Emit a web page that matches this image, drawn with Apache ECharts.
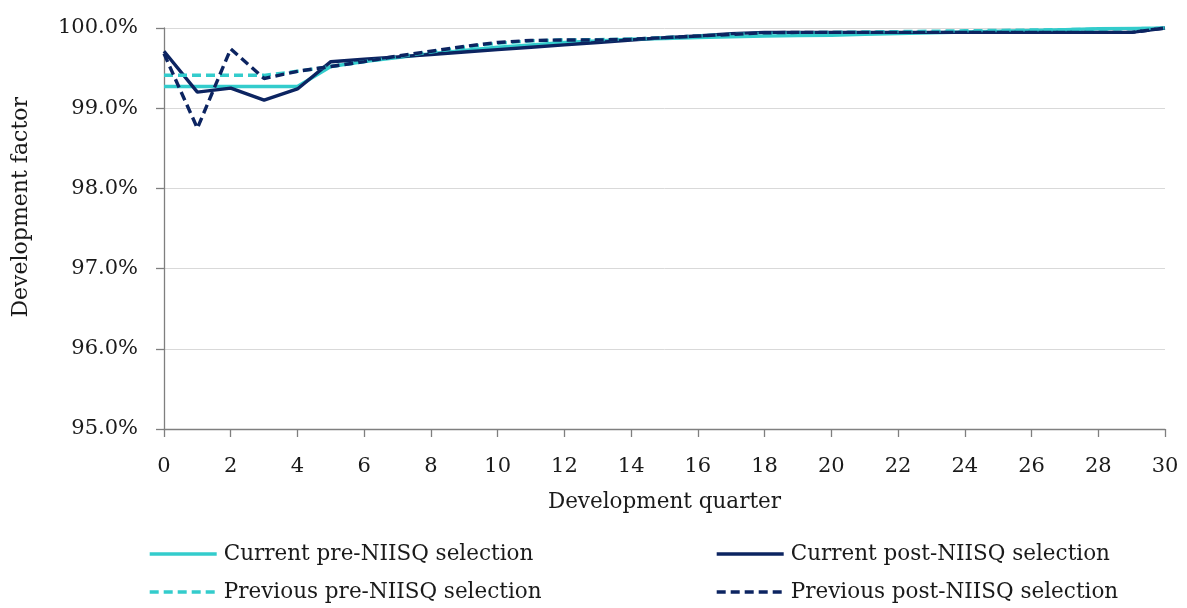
<!DOCTYPE html>
<html><head><meta charset="utf-8">
<script src="https://cdn.jsdelivr.net/npm/echarts@6/dist/echarts.min.js"></script>
<style>html,body{margin:0;padding:0;background:#fff}#c{width:1187px;height:608px}</style>
</head><body><div id="c"></div>
<script>
const quarters = [0,1,2,3,4,5,6,7,8,9,10,11,12,13,14,15,16,17,18,19,20,21,22,23,24,25,26,27,28,29,30];
const currentPre  = [99.27,99.27,99.27,99.27,99.27,99.52,99.58,99.63,99.68,99.72,99.76,99.79,99.82,99.84,99.86,99.87,99.88,99.89,99.90,99.905,99.91,99.92,99.93,99.94,99.95,99.96,99.97,99.98,99.99,99.995,100.0];
const currentPost = [99.71,99.20,99.25,99.10,99.24,99.58,99.61,99.64,99.67,99.70,99.73,99.76,99.79,99.82,99.85,99.88,99.90,99.93,99.945,99.945,99.945,99.945,99.945,99.945,99.945,99.945,99.945,99.945,99.945,99.945,100.0];
const previousPre = [99.41,99.41,99.41,99.41,99.46,99.52,99.58,99.64,99.70,99.76,99.81,99.84,99.85,99.855,99.86,99.88,99.90,99.92,99.935,99.94,99.945,99.95,99.955,99.96,99.965,99.97,99.975,99.98,99.985,99.99,100.0];
const previousPost= [99.68,98.75,99.74,99.37,99.46,99.52,99.58,99.65,99.71,99.77,99.82,99.845,99.85,99.85,99.86,99.88,99.90,99.92,99.94,99.945,99.945,99.945,99.945,99.945,99.945,99.945,99.945,99.945,99.945,99.945,100.0];
const yTicks = [95,96,97,98,99,100];
const names = ['Current pre-NIISQ selection','Current post-NIISQ selection','Previous pre-NIISQ selection','Previous post-NIISQ selection'];

const TEAL = '#33CCCC', NAVY = '#0C2461';
const FONT = 'DejaVu Serif';
const TXT = '#1a1a1a';
const pair = arr => quarters.map((q,i)=>[q, arr[i]]);
const chart = echarts.init(document.getElementById('c'), null, {renderer:'canvas'});
const axisGray = '#7f7f7f';
const DASH = [9,5];
const mk = (name, data, color, dashed) => ({
  name, type:'line', data: pair(data), symbol:'none', showSymbol:false, smooth:false,
  lineStyle:{color, width:3.4, type: dashed ? DASH : 'solid'},
  itemStyle:{color}, animation:false
});
const lg = (name, left, top, dashed) => ({
  data:[name], orient:'horizontal', left, top, padding:0,
  itemWidth:67, itemHeight:14, itemGap:10,
  itemStyle:{opacity:0},
  lineStyle:{width:3.4, type: dashed ? DASH : 'solid'},
  textStyle:{fontFamily:FONT, fontSize:21.5, color:TXT, padding:[0,0,0,2]}
});
chart.setOption({
  backgroundColor:'#fff',
  animation:false,
  textStyle:{fontFamily:FONT},
  grid:{left:164, right:22, top:28, bottom:179, containLabel:false},
  xAxis:{
    type:'value', min:0, max:30, interval:2,
    name:'Development quarter', nameLocation:'middle', nameGap:62,
    nameTextStyle:{fontFamily:FONT, fontSize:21.5, color:TXT},
    axisLine:{lineStyle:{color:axisGray, width:1.3}},
    axisTick:{show:true, inside:false, length:8, lineStyle:{color:axisGray, width:1.3}},
    axisLabel:{fontFamily:FONT, fontSize:21, color:TXT, margin:27},
    splitLine:{show:false}
  },
  yAxis:{
    type:'value', min:yTicks[0], max:yTicks[yTicks.length-1], interval:1,
    axisLine:{show:true, lineStyle:{color:axisGray, width:1.3}},
    axisTick:{show:true, inside:false, length:8, lineStyle:{color:axisGray, width:1.3}},
    axisLabel:{fontFamily:FONT, fontSize:21, color:TXT, margin:26, formatter:v=>v.toFixed(1)+'%'},
    splitLine:{show:true, lineStyle:{color:'#d9d9d9', width:1}}
  },
  legend:[
    lg(names[0], 148, 543, false),
    lg(names[1], 715, 543, false),
    lg(names[2], 148, 581, true),
    lg(names[3], 715, 581, true)
  ],
  graphic:[{type:'text', left:10, top:97, rotation:Math.PI/2,
    style:{text:'Development factor', fontFamily:FONT, fontSize:22, fill:TXT}}],
  series:[
    mk(names[0], currentPre, TEAL, false),
    mk(names[1], currentPost, NAVY, false),
    mk(names[2], previousPre, TEAL, true),
    mk(names[3], previousPost, NAVY, true)
  ]
});
</script></body></html>
